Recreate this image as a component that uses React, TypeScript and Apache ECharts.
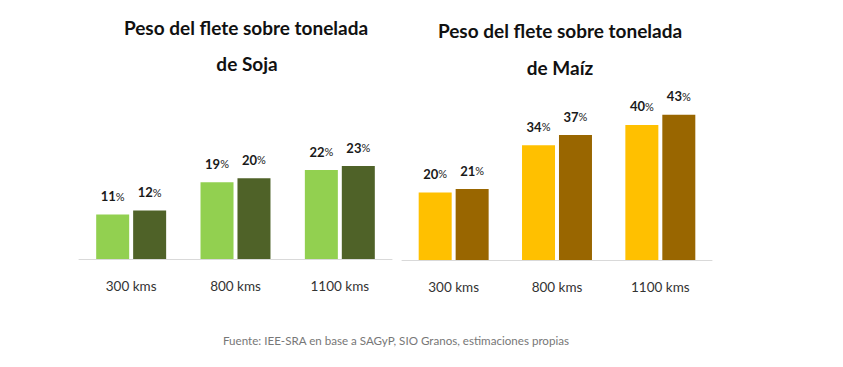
import React, { useEffect, useRef } from "react";
import * as echarts from "echarts";

const categories = ["300 kms", "800 kms", "1100 kms"];
const sojaSerie1 = [11, 19, 22];
const sojaSerie2 = [12, 20, 23];
const maizSerie1 = [20, 34, 40];
const maizSerie2 = [21, 37, 43];
const titleSoja = ["Peso del flete sobre tonelada", "de Soja"];
const titleMaiz = ["Peso del flete sobre tonelada", "de Maíz"];
const sourceText = "Fuente: IEE-SRA en base a SAGyP, SIO Granos, estimaciones propias";

const FONT = "Lato";

const label = {
  show: true,
  position: "top" as const,
  distance: 12,
  formatter: (p: any) => `{n|${p.value}}{p|%}`,
  rich: {
    n: { fontFamily: FONT, fontWeight: "bold", fontSize: 13, color: "#1a1a1a" },
    p: { fontFamily: FONT, fontWeight: "normal", fontSize: 11, color: "#1a1a1a" },
  },
};

export default function App() {
  const ref = useRef<HTMLDivElement>(null);
  useEffect(() => {
    if (!ref.current) return;
    const chart = echarts.init(ref.current, undefined, { renderer: "svg" });
    const xAxisCommon = {
      type: "category" as const,
      data: categories,
      axisTick: { show: false },
      axisLine: { lineStyle: { color: "#d9d9d9", width: 1 } },
      axisLabel: { fontFamily: FONT, fontSize: 13.5, color: "#333333", margin: 20 },
    };
    const yAxisCommon = {
      type: "value" as const,
      show: false,
      min: 0,
      splitLine: { show: false },
    };
    const titleStyle = { fontFamily: FONT, fontWeight: "bold", fontSize: 19, fill: "#111111", align: "center", verticalAlign: "middle" };
    chart.setOption({
      animation: false,
      backgroundColor: "#ffffff",
      grid: [
        { left: 79, width: 313, top: 158, bottom: 108 },
        { left: 402, width: 310, top: 108, bottom: 107 },
      ],
      xAxis: [
        { ...xAxisCommon, gridIndex: 0 },
        { ...xAxisCommon, gridIndex: 1 },
      ],
      yAxis: [
        { ...yAxisCommon, gridIndex: 0, max: 25 },
        { ...yAxisCommon, gridIndex: 1, max: 45 },
      ],
      series: [
        { name: "Soja serie 1", type: "bar", xAxisIndex: 0, yAxisIndex: 0, data: sojaSerie1, barWidth: 33, barGap: "12%", itemStyle: { color: "#92d050" }, label },
        { name: "Soja serie 2", type: "bar", xAxisIndex: 0, yAxisIndex: 0, data: sojaSerie2, barWidth: 33, barGap: "12%", itemStyle: { color: "#4f6228" }, label },
        { name: "Maíz serie 1", type: "bar", xAxisIndex: 1, yAxisIndex: 1, data: maizSerie1, barWidth: 33, barGap: "12%", itemStyle: { color: "#ffc000" }, label },
        { name: "Maíz serie 2", type: "bar", xAxisIndex: 1, yAxisIndex: 1, data: maizSerie2, barWidth: 33, barGap: "12%", itemStyle: { color: "#996600" }, label },
      ],
      graphic: [
        { type: "text", x: 246, y: 27, style: { ...titleStyle, text: titleSoja[0] } },
        { type: "text", x: 247, y: 63, style: { ...titleStyle, text: titleSoja[1] } },
        { type: "text", x: 560, y: 30, style: { ...titleStyle, text: titleMaiz[0] } },
        { type: "text", x: 560, y: 67, style: { ...titleStyle, text: titleMaiz[1] } },
        { type: "text", x: 396, y: 340, style: { text: sourceText, fontFamily: FONT, fontSize: 11.6, fill: "#777777", align: "center", verticalAlign: "middle" } },
      ],
    });
    return () => chart.dispose();
  }, []);
  return (
    <div
      ref={ref}
      style={{ position: "absolute", left: 0, top: 0, width: 843, height: 367 }}
    />
  );
}
